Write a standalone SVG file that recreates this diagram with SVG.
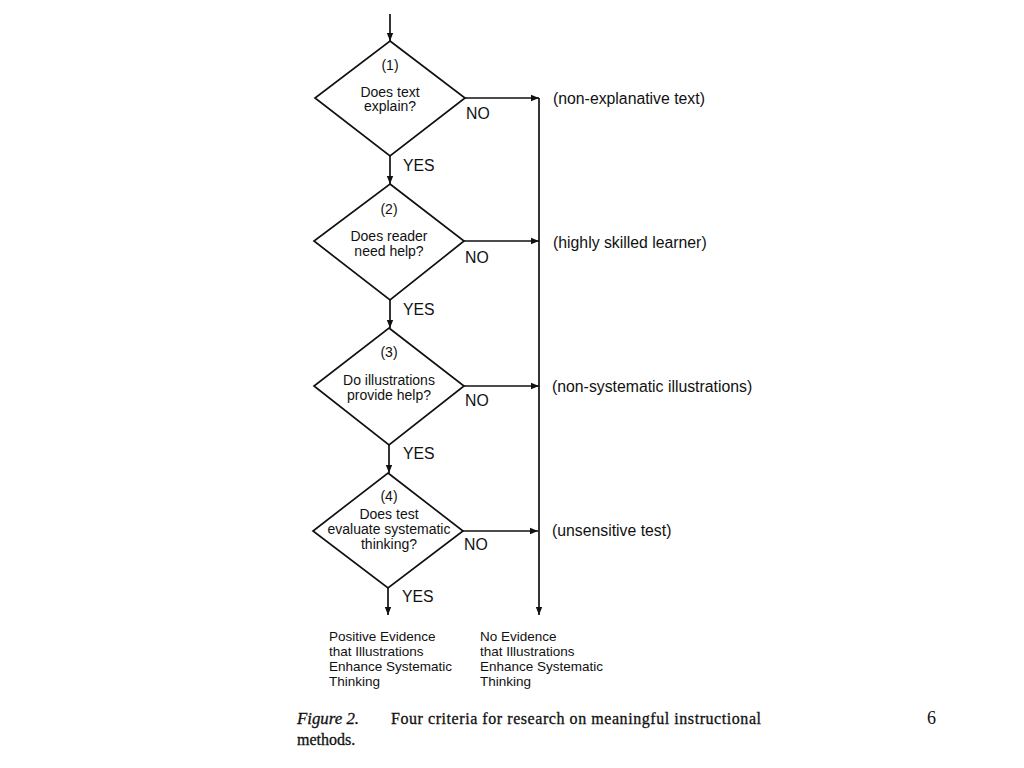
<svg xmlns="http://www.w3.org/2000/svg" width="1024" height="768" viewBox="0 0 1024 768">
<defs>
<marker id="ah" viewBox="0 0 10 10" refX="10" refY="5" markerWidth="13" markerHeight="8" markerUnits="userSpaceOnUse" orient="auto">
<path d="M0,1 L10,5 L0,9 Z" fill="#111"/>
</marker>
<style>
.d{fill:#fff;stroke:#111;stroke-width:1.7}
.c{fill:none;stroke:#111;stroke-width:1.7}
.t{font-family:"Liberation Sans",Arial,sans-serif;font-size:14px;fill:#111}
.m{text-anchor:middle}
.l{font-family:"Liberation Sans",Arial,sans-serif;font-size:15.8px;fill:#111}
.b{font-family:"Liberation Sans",Arial,sans-serif;font-size:13.5px;fill:#111}
.cap{font-family:"Liberation Serif","Times New Roman",serif;font-size:16px;fill:#111;stroke:#111;stroke-width:0.3}
</style>
</defs>
<rect width="1024" height="768" fill="#fff"/>
<g id="connectors">
<line class="c" x1="390" y1="14" x2="390" y2="41" marker-end="url(#ah)"/>
<line class="c" x1="390" y1="156" x2="390" y2="184" marker-end="url(#ah)"/>
<line class="c" x1="390" y1="300" x2="390" y2="328" marker-end="url(#ah)"/>
<line class="c" x1="389" y1="445" x2="389" y2="473" marker-end="url(#ah)"/>
<line class="c" x1="388" y1="588" x2="388" y2="615" marker-end="url(#ah)"/>
<line class="c" x1="465" y1="98" x2="539" y2="98" marker-end="url(#ah)"/>
<line class="c" x1="464" y1="241" x2="539" y2="241" marker-end="url(#ah)"/>
<line class="c" x1="464" y1="386" x2="539" y2="386" marker-end="url(#ah)"/>
<line class="c" x1="463" y1="531" x2="538" y2="531" marker-end="url(#ah)"/>
<line class="c" x1="539" y1="98" x2="539" y2="615" marker-end="url(#ah)"/>
<text class="l" x="403" y="171">YES</text>
<text class="l" x="403" y="315">YES</text>
<text class="l" x="403" y="459">YES</text>
<text class="l" x="402" y="602">YES</text>
<text class="l" x="466" y="119">NO</text>
<text class="l" x="465" y="263">NO</text>
<text class="l" x="465" y="406">NO</text>
<text class="l" x="464" y="550">NO</text>
</g>
<g id="q1">
<polygon class="d" points="390,41 465,98 390,156 315,98"/>
<text class="t m" x="390" y="70">(1)</text>
<text class="t m" x="390" y="97">Does text</text>
<text class="t m" x="390" y="111">explain?</text>
</g>
<g id="q2">
<polygon class="d" points="390,184 464,241 390,300 314,241"/>
<text class="t m" x="389" y="214">(2)</text>
<text class="t m" x="389" y="241">Does reader</text>
<text class="t m" x="389" y="256">need help?</text>
</g>
<g id="q3">
<polygon class="d" points="389,328 464,386 389,445 314,386"/>
<text class="t m" x="389" y="357">(3)</text>
<text class="t m" x="389" y="385">Do illustrations</text>
<text class="t m" x="389" y="400">provide help?</text>
</g>
<g id="q4">
<polygon class="d" points="388,473 463,531 388,588 313,531"/>
<text class="t m" x="389" y="501">(4)</text>
<text class="t m" x="389" y="519">Does test</text>
<text class="t m" x="389" y="534">evaluate systematic</text>
<text class="t m" x="389" y="549">thinking?</text>
</g>
<g id="o1"><text class="l" x="553" y="104">(non-explanative text)</text></g>
<g id="o2"><text class="l" x="553" y="248">(highly skilled learner)</text></g>
<g id="o3"><text class="l" x="552" y="392">(non-systematic illustrations)</text></g>
<g id="o4"><text class="l" x="552" y="536">(unsensitive test)</text></g>
<g id="pos">
<text class="b" x="329" y="641">Positive Evidence</text>
<text class="b" x="329" y="656">that Illustrations</text>
<text class="b" x="329" y="671">Enhance Systematic</text>
<text class="b" x="329" y="686">Thinking</text>
</g>
<g id="neg">
<text class="b" x="480" y="641">No Evidence</text>
<text class="b" x="480" y="656">that Illustrations</text>
<text class="b" x="480" y="671">Enhance Systematic</text>
<text class="b" x="480" y="686">Thinking</text>
</g>
<g id="caption">
<text class="cap" x="297" y="724" font-style="italic" textLength="62" lengthAdjust="spacingAndGlyphs">Figure 2.</text>
<text class="cap" x="391" y="724" textLength="370" lengthAdjust="spacing">Four criteria for research on meaningful instructional</text>
<text class="cap" x="297" y="745">methods.</text>
<text x="927" y="724" font-family="Liberation Serif,serif" font-size="18" fill="#111">6</text>
</g>
</svg>
